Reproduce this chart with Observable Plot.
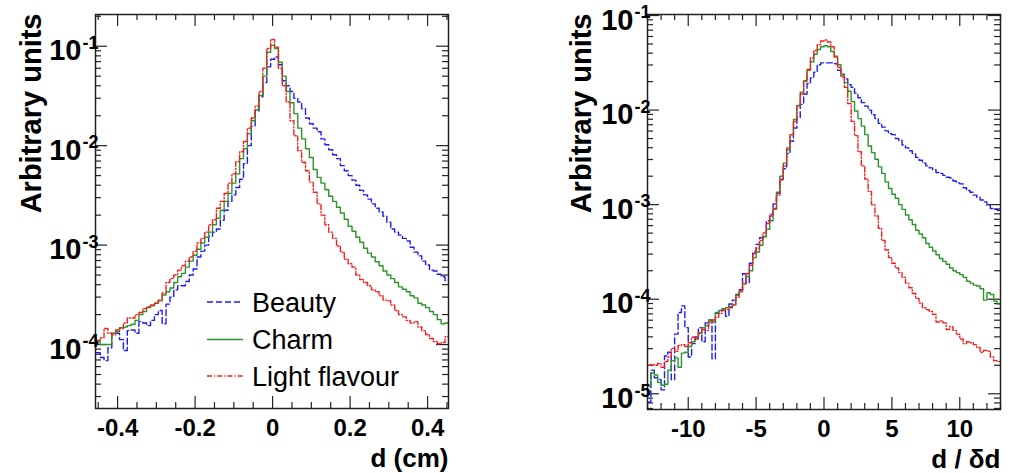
<!DOCTYPE html>
<html><head><meta charset="utf-8">
<script src="https://cdn.jsdelivr.net/npm/d3@7"></script>
<script src="https://cdn.jsdelivr.net/npm/@observablehq/plot@0.6"></script>
<style>
body{margin:0;background:#fff;}
#wrap{position:relative;width:1013px;height:473px;display:flex;overflow:hidden;}
#legend{position:absolute;left:0;top:0;}
</style></head><body>
<div id="wrap"><div id="left"></div><div id="right"></div><svg id="legend" width="506" height="473"></svg></div>
<script>
// ---------- data ----------
const seriesNames = ["Beauty", "Charm", "Light flavour"];

// left panel: impact parameter d (cm), bins of 0.01 cm starting at -0.455
const dBinStart = -0.455, dBinWidth = 0.01;
const dBeauty = [8.30e-5,7.40e-5,6.90e-5,9.30e-5,1.30e-4,1.30e-4,1.12e-4,8.70e-5,1.38e-4,1.40e-4,
 1.30e-4,1.70e-4,1.65e-4,1.55e-4,1.75e-4,2.00e-4,2.20e-4,1.62e-4,2.55e-4,3.00e-4,
 3.55e-4,3.90e-4,3.90e-4,4.30e-4,5.00e-4,5.75e-4,7.60e-4,8.70e-4,1.00e-3,1.23e-3,
 1.35e-3,1.45e-3,1.78e-3,2.24e-3,2.75e-3,3.20e-3,3.80e-3,4.60e-3,6.60e-3,1.00e-2,
 1.58e-2,2.24e-2,3.10e-2,4.30e-2,6.20e-2,7.40e-2,7.80e-2,6.50e-2,4.50e-2,4.00e-2,
 3.50e-2,3.00e-2,2.75e-2,2.35e-2,1.90e-2,1.66e-2,1.50e-2,1.38e-2,1.17e-2,1.02e-2,
 9.10e-3,8.10e-3,7.40e-3,6.30e-3,5.60e-3,5.00e-3,4.50e-3,4.00e-3,3.55e-3,3.20e-3,
 2.90e-3,2.60e-3,2.35e-3,2.15e-3,1.95e-3,1.70e-3,1.45e-3,1.35e-3,1.26e-3,1.17e-3,
 1.10e-3,9.50e-4,8.50e-4,7.80e-4,6.90e-4,6.30e-4,5.60e-4,5.50e-4,5.10e-4,4.80e-4,
 4.40e-4];
const dCharm = [1.07e-4,1.00e-4,1.00e-4,1.00e-4,1.30e-4,1.35e-4,1.48e-4,1.50e-4,1.55e-4,1.60e-4,
 1.75e-4,2.00e-4,2.15e-4,2.35e-4,2.45e-4,2.60e-4,2.75e-4,3.15e-4,3.40e-4,3.70e-4,
 4.20e-4,4.80e-4,5.20e-4,6.00e-4,6.90e-4,7.90e-4,9.10e-4,1.05e-3,1.20e-3,1.35e-3,
 1.60e-3,1.86e-3,2.24e-3,2.75e-3,3.30e-3,4.20e-3,5.20e-3,7.40e-3,9.30e-3,1.32e-2,
 1.78e-2,2.30e-2,3.20e-2,5.00e-2,8.70e-2,0.102,9.50e-2,6.90e-2,5.00e-2,3.50e-2,
 2.70e-2,2.10e-2,1.50e-2,1.17e-2,9.30e-3,7.60e-3,5.75e-3,4.80e-3,4.20e-3,3.60e-3,
 3.10e-3,2.75e-3,2.40e-3,2.10e-3,1.82e-3,1.55e-3,1.38e-3,1.20e-3,1.07e-3,9.30e-4,
 8.30e-4,7.60e-4,6.80e-4,6.20e-4,5.50e-4,5.00e-4,4.60e-4,4.20e-4,3.80e-4,3.60e-4,
 3.40e-4,3.10e-4,2.95e-4,2.60e-4,2.50e-4,2.35e-4,2.15e-4,2.00e-4,1.78e-4,1.62e-4,
 1.65e-4];
const dLight = [1.10e-4,1.17e-4,1.45e-4,1.30e-4,1.25e-4,1.40e-4,1.45e-4,1.65e-4,1.85e-4,1.85e-4,
 2.00e-4,2.10e-4,2.30e-4,2.40e-4,2.50e-4,2.60e-4,2.80e-4,3.30e-4,4.20e-4,4.60e-4,
 5.00e-4,5.60e-4,6.20e-4,6.90e-4,7.60e-4,8.70e-4,1.05e-3,1.17e-3,1.35e-3,1.60e-3,
 1.80e-3,2.35e-3,2.75e-3,3.30e-3,4.20e-3,5.20e-3,6.90e-3,8.70e-3,1.10e-2,1.50e-2,
 1.90e-2,2.50e-2,3.50e-2,6.00e-2,9.50e-2,0.117,9.80e-2,6.00e-2,4.00e-2,2.75e-2,
 1.78e-2,1.26e-2,8.90e-3,6.80e-3,5.60e-3,4.30e-3,3.40e-3,2.60e-3,2.00e-3,1.60e-3,
 1.35e-3,1.17e-3,9.80e-4,8.50e-4,7.20e-4,6.50e-4,6.00e-4,5.00e-4,4.50e-4,4.20e-4,
 3.90e-4,3.55e-4,3.40e-4,3.10e-4,2.80e-4,2.75e-4,2.50e-4,2.20e-4,2.00e-4,1.90e-4,
 1.75e-4,1.65e-4,1.70e-4,1.50e-4,1.38e-4,1.26e-4,1.15e-4,1.07e-4,1.02e-4,1.05e-4,
 1.20e-4];

// right panel: significance d / δd, bins of 0.25 starting at -13
const sBinStart = -13, sBinWidth = 0.25;
const sBeauty = [8.13e-6,1.78e-5,1.48e-5,1.41e-5,1.10e-5,2.51e-5,2.75e-5,1.41e-5,4.27e-5,7.24e-5,
 8.51e-5,5.01e-5,2.45e-5,3.39e-5,3.98e-5,5.01e-5,3.55e-5,5.62e-5,6.03e-5,2.34e-5,
 7.08e-5,7.59e-5,7.94e-5,6.61e-5,8.91e-5,9.77e-5,1.12e-4,1.26e-4,1.86e-4,1.48e-4,
 2.40e-4,3.16e-4,3.80e-4,4.47e-4,4.57e-4,6.76e-4,7.94e-4,1.02e-3,1.32e-3,1.86e-3,
 2.40e-3,3.47e-3,4.68e-3,6.46e-3,8.32e-3,1.15e-2,1.48e-2,1.91e-2,2.19e-2,2.51e-2,
 3.02e-2,3.16e-2,3.16e-2,3.16e-2,3.16e-2,3.09e-2,2.63e-2,2.40e-2,2.14e-2,1.86e-2,
 1.74e-2,1.51e-2,1.35e-2,1.20e-2,1.10e-2,1.00e-2,8.91e-3,8.13e-3,7.24e-3,6.61e-3,
 6.03e-3,5.62e-3,5.50e-3,5.01e-3,4.79e-3,4.27e-3,3.98e-3,3.72e-3,3.47e-3,3.16e-3,
 2.95e-3,2.75e-3,2.57e-3,2.45e-3,2.34e-3,2.19e-3,2.14e-3,2.04e-3,1.95e-3,1.91e-3,
 1.78e-3,1.70e-3,1.66e-3,1.51e-3,1.41e-3,1.35e-3,1.26e-3,1.20e-3,1.12e-3,1.07e-3,
 9.77e-4,9.12e-4,8.91e-4,8.71e-4];
const sCharm = [1.20e-5,1.66e-5,1.58e-5,1.32e-5,1.23e-5,1.26e-5,1.78e-5,2.24e-5,2.40e-5,1.91e-5,
 2.69e-5,2.75e-5,3.16e-5,3.55e-5,3.80e-5,4.37e-5,5.01e-5,5.25e-5,6.03e-5,5.75e-5,
 7.24e-5,7.59e-5,7.94e-5,8.13e-5,8.32e-5,8.71e-5,1.10e-4,1.20e-4,1.45e-4,1.74e-4,
 2.00e-4,2.75e-4,3.16e-4,3.72e-4,4.57e-4,5.50e-4,6.76e-4,8.91e-4,1.35e-3,2.00e-3,
 2.75e-3,3.80e-3,5.50e-3,7.94e-3,1.12e-2,1.55e-2,2.04e-2,2.63e-2,3.24e-2,3.89e-2,
 4.37e-2,4.68e-2,4.79e-2,4.68e-2,4.17e-2,3.72e-2,3.02e-2,2.34e-2,1.95e-2,1.58e-2,
 1.23e-2,9.77e-3,8.13e-3,6.76e-3,5.50e-3,4.17e-3,3.55e-3,3.02e-3,2.51e-3,2.14e-3,
 1.74e-3,1.48e-3,1.29e-3,1.17e-3,1.00e-3,8.91e-4,7.76e-4,6.92e-4,6.17e-4,5.37e-4,
 4.90e-4,4.47e-4,3.89e-4,3.55e-4,3.24e-4,2.95e-4,2.69e-4,2.51e-4,2.34e-4,2.14e-4,
 2.00e-4,1.91e-4,1.82e-4,1.70e-4,1.55e-4,1.48e-4,1.41e-4,1.38e-4,1.29e-4,9.77e-5,
 1.17e-4,1.12e-4,9.55e-5,8.91e-5];
const sLight = [2.00e-5,2.04e-5,2.00e-5,2.09e-5,1.91e-5,2.19e-5,2.45e-5,3.02e-5,2.82e-5,3.24e-5,
 3.31e-5,3.16e-5,3.47e-5,3.98e-5,3.80e-5,4.47e-5,4.79e-5,4.68e-5,5.75e-5,6.03e-5,
 6.46e-5,7.08e-5,7.59e-5,7.76e-5,8.13e-5,8.71e-5,1.05e-4,1.23e-4,1.48e-4,1.86e-4,
 2.29e-4,3.02e-4,3.47e-4,4.17e-4,5.01e-4,6.31e-4,7.59e-4,9.12e-4,1.26e-3,1.82e-3,
 2.57e-3,3.98e-3,5.50e-3,7.59e-3,1.10e-2,1.48e-2,2.00e-2,2.69e-2,3.55e-2,4.27e-2,
 4.90e-2,5.37e-2,5.50e-2,5.25e-2,4.68e-2,3.63e-2,2.82e-2,2.24e-2,1.74e-2,1.17e-2,
 7.59e-3,5.37e-3,3.63e-3,2.57e-3,1.86e-3,1.38e-3,1.00e-3,7.59e-4,5.62e-4,4.17e-4,
 3.31e-4,2.75e-4,2.40e-4,2.14e-4,1.91e-4,1.70e-4,1.48e-4,1.32e-4,1.15e-4,1.02e-4,
 9.12e-5,8.13e-5,7.76e-5,7.41e-5,6.92e-5,5.75e-5,5.89e-5,5.62e-5,4.79e-5,5.13e-5,
 4.68e-5,4.27e-5,3.80e-5,3.39e-5,3.55e-5,3.47e-5,3.31e-5,3.09e-5,2.75e-5,2.88e-5,
 2.82e-5,2.45e-5,2.24e-5,2.19e-5];

// axis ticks and labels
const dMajorTicks = [-0.4, -0.2, 0, 0.2, 0.4];
const dTickLabels = ["-0.4", "-0.2", "0", "0.2", "0.4"];
const sMajorTicks = [-10, -5, 0, 5, 10];
const sTickLabels = ["-10", "-5", "0", "5", "10"];
const leftExponents = [-1, -2, -3, -4];
const rightExponents = [-1, -2, -3, -4, -5];
const yTitle = "Arbitrary units";
const leftXTitle = "d (cm)";
const rightXTitle = "d / \u03b4d";

// ---------- styles ----------
const FONT = "'Liberation Sans', Arial, Helvetica, sans-serif";
const seriesStyle = {
  "Beauty": {stroke: "#1c1cff", dash: "6,3"},
  "Charm": {stroke: "#2a962a", dash: null},
  "Light flavour": {stroke: "#ff1a1a", dash: "5,2,1.2,2"}
};

function steps(start, width, values) {
  const pts = values.map((v, i) => ({x: start + i * width, y: v}));
  pts.push({x: start + values.length * width, y: values[values.length - 1]});
  return pts;
}
function histLine(start, width, values, name) {
  const s = seriesStyle[name];
  return Plot.line(steps(start, width, values), {
    x: "x", y: "y", curve: "step-after", stroke: s.stroke, strokeWidth: 1.4,
    strokeDasharray: s.dash, clip: true
  });
}
function logMinors(lo, hi) {
  const out = [];
  for (let e = -6; e <= 0; e++) for (let m = 2; m <= 9; m++) {
    const v = m * Math.pow(10, e);
    if (v > lo && v < hi) out.push(v);
  }
  return out;
}

function panel(cfg) {
  const W = cfg.width - cfg.ml - cfg.mr;
  const H = cfg.height - cfg.mt - cfg.mb;
  const majY = cfg.exps.map(e => Math.pow(10, e));
  const minY = logMinors(cfg.ydom[0], cfg.ydom[1]);
  const tickStroke = "#222";
  const marks = [
    Plot.tickX(cfg.xMajor, {x: d => d, insetTop: H - 12, stroke: tickStroke, strokeWidth: 1.2}),
    Plot.tickX(cfg.xMajor, {x: d => d, insetBottom: H - 12, stroke: tickStroke, strokeWidth: 1.2}),
    Plot.tickX(cfg.xMinor, {x: d => d, insetTop: H - 6, stroke: tickStroke, strokeWidth: 1.2}),
    Plot.tickX(cfg.xMinor, {x: d => d, insetBottom: H - 6, stroke: tickStroke, strokeWidth: 1.2}),
    Plot.tickY(majY, {y: d => d, insetRight: W - 12, stroke: tickStroke, strokeWidth: 1.2}),
    Plot.tickY(majY, {y: d => d, insetLeft: W - 12, stroke: tickStroke, strokeWidth: 1.2}),
    Plot.tickY(minY, {y: d => d, insetRight: W - 6, stroke: tickStroke, strokeWidth: 1.2}),
    Plot.tickY(minY, {y: d => d, insetLeft: W - 6, stroke: tickStroke, strokeWidth: 1.2}),
    histLine(cfg.binStart, cfg.binWidth, cfg.beauty, "Beauty"),
    histLine(cfg.binStart, cfg.binWidth, cfg.charm, "Charm"),
    histLine(cfg.binStart, cfg.binWidth, cfg.light, "Light flavour"),
    Plot.frame({stroke: "#222", strokeWidth: 1.5}),
    Plot.text(cfg.xMajor, {x: d => d, text: (d, i) => cfg.xLabels[i], frameAnchor: "bottom",
      lineAnchor: "top", dy: 10, fontSize: 24, fontWeight: "bold", fill: "#000", fontFamily: FONT}),
    Plot.text(cfg.exps, {y: e => Math.pow(10, e), text: () => "10", frameAnchor: "left",
      textAnchor: "end", dx: -14, dy: 5, fontSize: 29, fontWeight: "bold", fill: "#000", fontFamily: FONT}),
    Plot.text(cfg.exps, {y: e => Math.pow(10, e), text: e => String(e), frameAnchor: "left",
      textAnchor: "start", dx: -13, dy: -3, fontSize: 18, fontWeight: "bold", fill: "#000", fontFamily: FONT}),
    Plot.text([cfg.xTitle], {text: d => d, frameAnchor: "bottom-right", textAnchor: "end",
      dy: 58, fontSize: 26, fontWeight: "bold", fill: "#000", fontFamily: FONT}),
    Plot.text([yTitle], {text: d => d, frameAnchor: "top-left", rotate: -90, textAnchor: "end",
      dx: cfg.yTitleDx, dy: -1, fontSize: 29, fontWeight: "bold", fill: "#000", fontFamily: FONT})
  ];
  return Plot.plot({
    width: cfg.width, height: cfg.height,
    marginTop: cfg.mt, marginBottom: cfg.mb, marginLeft: cfg.ml, marginRight: cfg.mr,
    x: {domain: cfg.xdom, axis: null},
    y: {type: "log", domain: cfg.ydom, axis: null},
    style: {fontFamily: FONT, background: "#fff", overflow: "visible"},
    marks
  });
}

const dMinor = d3.range(-45, 46, 5).filter(k => k % 20 !== 0).map(k => k / 100);
const sMinor = d3.range(-13, 14).filter(k => k % 5 !== 0);

document.getElementById("left").appendChild(panel({
  width: 506, height: 473, mt: 14, mb: 65, ml: 95, mr: 58,
  xdom: [-0.457, 0.454], ydom: [2.275e-5, 0.2084],
  binStart: dBinStart, binWidth: dBinWidth,
  beauty: dBeauty, charm: dCharm, light: dLight,
  xMajor: dMajorTicks, xLabels: dTickLabels, xMinor: dMinor,
  exps: leftExponents, xTitle: leftXTitle, yTitleDx: -75
}));
document.getElementById("right").appendChild(panel({
  width: 507, height: 473, mt: 14, mb: 64, ml: 141, mr: 13,
  xdom: [-13, 13], ydom: [6.82e-6, 0.1025],
  binStart: sBinStart, binWidth: sBinWidth,
  beauty: sBeauty, charm: sCharm, light: sLight,
  xMajor: sMajorTicks, xLabels: sTickLabels, xMinor: sMinor,
  exps: rightExponents, xTitle: rightXTitle, yTitleDx: -77
}));

// legend (left panel)
const lg = d3.select("#legend");
const rowsY = [302, 339.5, 376];
seriesNames.forEach((name, i) => {
  const s = seriesStyle[name];
  lg.append("line").attr("x1", 207).attr("x2", 243).attr("y1", rowsY[i]).attr("y2", rowsY[i])
    .attr("stroke", s.stroke).attr("stroke-width", 1.4).attr("stroke-dasharray", s.dash);
  lg.append("text").attr("x", 252).attr("y", rowsY[i] + 9.5).attr("font-family", FONT)
    .attr("font-size", 27).attr("fill", "#000").text(name);
});
</script>
</body></html>
